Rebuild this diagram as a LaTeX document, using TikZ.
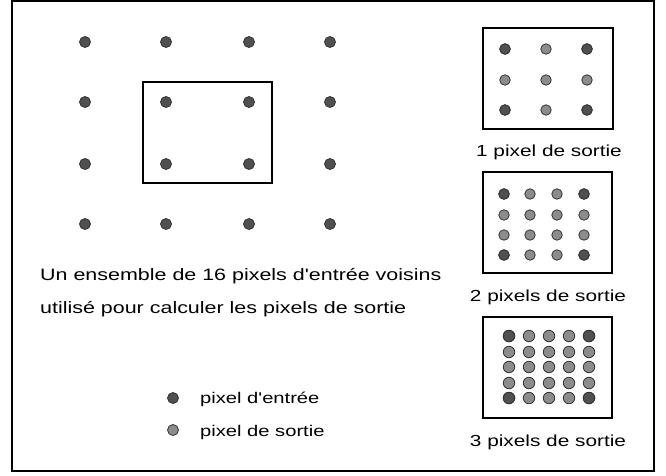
\documentclass[tikz,border=0pt]{standalone}
\usepackage{fontspec}
\setmainfont{Liberation Sans}[FakeStretch=1.3, Ligatures=TeXOff]
\usepackage{xcolor}
\definecolor{indot}{HTML}{505050}
\definecolor{outdot}{HTML}{8C8C8C}
\definecolor{dotrim}{HTML}{333333}

\begin{document}
\begin{tikzpicture}[x=1pt, y=-1pt,
  inpix/.style={circle, draw=dotrim, fill=indot, line width=0.8pt,
                minimum size=11pt, inner sep=0pt},
  outpix/.style={circle, draw=dotrim, fill=outdot, line width=0.8pt,
                 minimum size=11pt, inner sep=0pt},
  win/.style={draw, line width=1.3pt, inner sep=0pt,
              minimum width=129pt, minimum height=101pt},
  txt/.style={font=\fontsize{16.5}{20}\selectfont, inner sep=0pt, anchor=base west},
  boxcap/.style={font=\fontsize{16}{20}\selectfont, inner sep=0pt, anchor=base}
]
\useasboundingbox (0,0) rectangle (666,475);
\draw[line width=2pt] (12,1) rectangle (654,471);

% input grid and the 2x2 window
\node[win] (window) at (207.5,132.5) {};
\foreach \c/\x in {1/85,2/166,3/249,4/330}
  \foreach \r/\y in {1/42,2/102,3/164,4/224}
    \node[inpix] (in-\r-\c) at (\x,\y) {};

\node[txt] (desc1) at (40,280) {Un ensemble de 16 pixels d'entrée voisins};
\node[txt] (desc2) at (40,313) {utilisé pour calculer les pixels de sortie};

% legend
\node[inpix] (leg-in) at (173,398) {};
\node[outpix] (leg-out) at (173,430) {};
\node[txt, font=\fontsize{15.5}{20}\selectfont] (leg-in-txt) at (200,403) {pixel d'entrée};
\node[txt, font=\fontsize{15.5}{20}\selectfont] (leg-out-txt) at (200,436) {pixel de sortie};

% 1 output pixel
\node[win, minimum width=130pt] (box1) at (548,78.5) {};
\foreach \c/\x in {1/505,2/546,3/587}
  \foreach \r/\y in {1/49,2/80,3/110}
    \node[outpix, minimum size=10.5pt] (o1-\r-\c) at (\x,\y) {};
\foreach \p in {1-1,1-3,3-1,3-3}
  \node[inpix, minimum size=10.5pt] at (o1-\p) {};
\node[boxcap] (cap1) at (549,156) {1 pixel de sortie};

% 2 output pixels
\node[win] (box2) at (547.5,222.5) {};
\foreach \c/\x in {1/504,2/530,3/557,4/584}
  \foreach \r/\y in {1/194,2/215,3/235,4/255}
    \node[outpix, minimum size=10.5pt] (o2-\r-\c) at (\x,\y) {};
\foreach \p in {1-1,1-4,4-1,4-4}
  \node[inpix, minimum size=10.5pt] at (o2-\p) {};
\node[boxcap] (cap2) at (548,301) {2 pixels de sortie};

% 3 output pixels
\node[win] (box3) at (547.5,367.5) {};
\foreach \c/\x in {1/509,2/529,3/549,4/569,5/589}
  \foreach \r/\y in {1/336,2/352,3/367,4/383,5/398}
    \node[outpix, minimum size=11.5pt] (o3-\r-\c) at (\x,\y) {};
\foreach \p in {1-1,1-5,5-1,5-5}
  \node[inpix, minimum size=11.5pt] at (o3-\p) {};
\node[boxcap] (cap3) at (548,446) {3 pixels de sortie};
\end{tikzpicture}
\end{document}
